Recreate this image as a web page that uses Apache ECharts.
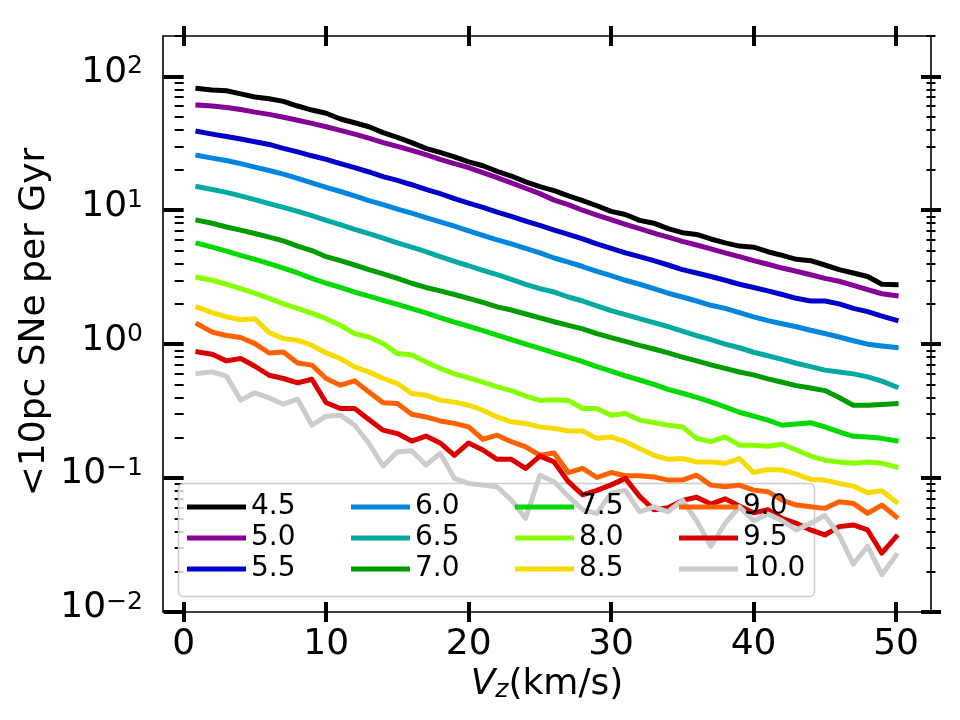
<!DOCTYPE html>
<html>
<head>
<meta charset="utf-8">
<script src="https://cdn.jsdelivr.net/npm/echarts@6.0.0/dist/echarts.min.js"></script>
<style>
    html, body { margin: 0; padding: 0; background: #fff; }
    #chart { width: 960px; height: 720px; }
</style>
</head>
<body>
<div id="chart"></div>
<script>
    // Vz (km/s)
    const vz = [1, 2, 3, 4, 5, 6, 7, 8, 9, 10, 11, 12, 13, 14, 15, 16, 17, 18, 19, 20,
        21, 22, 23, 24, 25, 26, 27, 28, 29, 30, 31, 32, 33, 34, 35, 36, 37, 38, 39, 40,
        41, 42, 43, 44, 45, 46, 47, 48, 49, 50];
    const names = ['4.5', '5.0', '5.5', '6.0', '6.5', '7.0', '7.5', '8.0', '8.5', '9.0', '9.5', '10.0'];
    // nipy_spectral
    const colors = ['#000000', '#850096', '#0000ca', '#0086dd', '#00aaa1', '#009c00',
        '#00da00', '#88ff00', '#f7db00', '#ff6100', '#da0000', '#cccccc'];

    // <10pc SNe per Gyr
    const s45 = [81, 79, 78, 74, 70, 68, 65, 60, 56, 53, 48, 45, 42, 38, 35, 32, 29, 27, 25, 23,
        21.5, 19.5, 18, 16.3, 15, 14, 12.8, 11.8, 10.8, 9.8, 9.3, 8.4, 8.0, 7.3, 6.8, 6.6, 6.1, 5.7, 5.4, 5.3,
        4.9, 4.6, 4.3, 4.2, 3.9, 3.6, 3.4, 3.2, 2.8, 2.78];
    const s50 = [61, 60, 58.5, 56.5, 54, 52, 49.5, 47, 44.5, 42, 39.5, 37, 34.5, 32, 30, 28, 26, 24, 22.3, 20.8,
        19.1, 17.5, 16.0, 14.6, 13.3, 11.9, 11.0, 10.0, 9.2, 8.5, 7.85, 7.3, 6.75, 6.3, 5.85, 5.5, 5.15, 4.8, 4.5, 4.2,
        3.95, 3.7, 3.5, 3.3, 3.1, 2.95, 2.75, 2.55, 2.38, 2.3];
    const s55 = [38.7, 37, 35.5, 34, 32.5, 31, 29, 27.3, 25.5, 24, 22.3, 20.8, 19.3, 17.8, 16.7, 15.5, 14.3, 13.3, 12.2, 11.3,
        10.5, 9.7, 9.0, 8.3, 7.7, 7.1, 6.6, 6.1, 5.6, 5.2, 4.8, 4.5, 4.2, 3.9, 3.6, 3.4, 3.2, 3.0, 2.8, 2.65,
        2.5, 2.35, 2.2, 2.1, 2.1, 2.0, 1.85, 1.75, 1.62, 1.51];
    const s60 = [25.6, 24.5, 23.5, 22.3, 21, 19.8, 18.6, 17.3, 16, 14.8, 13.8, 12.8, 11.8, 11.0, 10.2, 9.5, 8.8, 8.2, 7.6, 7.0,
        6.5, 6.0, 5.6, 5.2, 4.8, 4.4, 4.1, 3.8, 3.5, 3.25, 3.0, 2.8, 2.6, 2.4, 2.25, 2.1, 1.95, 1.85, 1.72, 1.6,
        1.5, 1.42, 1.35, 1.27, 1.2, 1.13, 1.06, 1.0, 0.97, 0.946];
    const s65 = [15.0, 14.3, 13.6, 12.8, 12.0, 11.2, 10.5, 9.8, 9.1, 8.4, 7.8, 7.2, 6.7, 6.2, 5.7, 5.3, 4.9, 4.5, 4.15, 3.85,
        3.55, 3.3, 3.05, 2.8, 2.6, 2.45, 2.25, 2.1, 1.93, 1.78, 1.66, 1.55, 1.45, 1.35, 1.25, 1.16, 1.08, 1.0, 0.94, 0.87,
        0.82, 0.77, 0.72, 0.68, 0.64, 0.62, 0.6, 0.57, 0.53, 0.48];
    const s70 = [8.4, 8.0, 7.5, 7.1, 6.7, 6.3, 5.9, 5.4, 5.0, 4.5, 4.2, 3.9, 3.6, 3.35, 3.1, 2.85, 2.65, 2.5, 2.35, 2.2,
        2.05, 1.9, 1.8, 1.68, 1.57, 1.47, 1.38, 1.3, 1.2, 1.12, 1.05, 0.98, 0.92, 0.86, 0.8, 0.75, 0.7, 0.66, 0.62, 0.59,
        0.55, 0.52, 0.49, 0.47, 0.45, 0.40, 0.35, 0.35, 0.355, 0.36];
    const s75 = [5.65, 5.3, 4.95, 4.6, 4.3, 4.0, 3.7, 3.4, 3.1, 2.85, 2.65, 2.45, 2.28, 2.12, 1.98, 1.84, 1.71, 1.58, 1.46, 1.36,
        1.26, 1.17, 1.08, 1.0, 0.93, 0.86, 0.8, 0.74, 0.68, 0.63, 0.58, 0.54, 0.5, 0.46, 0.43, 0.4, 0.37, 0.34, 0.31, 0.29,
        0.271, 0.248, 0.253, 0.259, 0.241, 0.221, 0.205, 0.203, 0.198, 0.190];
    const s80 = [3.15, 3.0, 2.8, 2.6, 2.4, 2.2, 2.0, 1.85, 1.7, 1.55, 1.38, 1.20, 1.13, 1.01, 0.85, 0.83, 0.736, 0.66, 0.6, 0.56,
        0.52, 0.48, 0.45, 0.41, 0.38, 0.385, 0.38, 0.331, 0.331, 0.295, 0.304, 0.271, 0.26, 0.248, 0.241, 0.198, 0.187, 0.203, 0.176, 0.176,
        0.173, 0.179, 0.162, 0.146, 0.136, 0.132, 0.129, 0.132, 0.129, 0.121];
    const s85 = [1.88, 1.72, 1.6, 1.52, 1.55, 1.22, 1.10, 1.07, 0.98, 0.86, 0.78, 0.676, 0.621, 0.554, 0.508, 0.428, 0.416, 0.382, 0.369, 0.350,
        0.321, 0.286, 0.263, 0.256, 0.241, 0.235, 0.225, 0.225, 0.198, 0.203, 0.187, 0.166, 0.148, 0.138, 0.140, 0.132, 0.132, 0.129, 0.140, 0.110,
        0.116, 0.115, 0.107, 0.0978, 0.0966, 0.0912, 0.0871, 0.0776, 0.0804, 0.0665];
    const s90 = [1.41, 1.23, 1.16, 1.12, 1.01, 0.859, 0.875, 0.724, 0.697, 0.554, 0.494, 0.532, 0.44, 0.365, 0.361, 0.30, 0.286, 0.267, 0.256, 0.241,
        0.195, 0.209, 0.187, 0.171, 0.148, 0.154, 0.110, 0.118, 0.101, 0.110, 0.104, 0.104, 0.102, 0.0966, 0.0966, 0.105, 0.0886, 0.0861, 0.0886, 0.0813,
        0.0791, 0.0685, 0.0629, 0.061, 0.0594, 0.0665, 0.0647, 0.0545, 0.0629, 0.0514];
    const s95 = [0.875, 0.841, 0.75, 0.781, 0.684, 0.586, 0.554, 0.514, 0.547, 0.365, 0.331, 0.331, 0.274, 0.228, 0.215, 0.189, 0.206, 0.183, 0.148, 0.183,
        0.162, 0.138, 0.138, 0.118, 0.146, 0.132, 0.094, 0.075, 0.081, 0.089, 0.0995, 0.073, 0.058, 0.06, 0.068, 0.072, 0.064, 0.07, 0.062, 0.055,
        0.058, 0.05, 0.046, 0.041, 0.0376, 0.0434, 0.0447, 0.041, 0.0275, 0.0365];
    const s100 = [0.604, 0.621, 0.577, 0.382, 0.433, 0.397, 0.356, 0.388, 0.248, 0.290, 0.295, 0.248, 0.182, 0.123, 0.157, 0.16, 0.125, 0.153, 0.0995, 0.0912,
        0.0886, 0.0861, 0.0685, 0.050, 0.105, 0.094, 0.073, 0.058, 0.0545, 0.077, 0.081, 0.056, 0.061, 0.056, 0.0685, 0.048, 0.031, 0.046, 0.061, 0.048,
        0.054, 0.048, 0.041, 0.046, 0.0526, 0.0376, 0.0228, 0.031, 0.019, 0.0265];
    const allSeries = [s45, s50, s55, s60, s65, s70, s75, s80, s85, s90, s95, s100];

    // ticks
    const xTicks = [0, 10, 20, 30, 40, 50];
    const yMajor = [0.01, 0.1, 1, 10, 100];
    const yMinor = [0.02, 0.03, 0.04, 0.05, 0.06, 0.07, 0.08, 0.09,
        0.2, 0.3, 0.4, 0.5, 0.6, 0.7, 0.8, 0.9,
        2, 3, 4, 5, 6, 7, 8, 9,
        20, 30, 40, 50, 60, 70, 80, 90, 200];
    // legend columns (filled column by column)
    const legendCols = [['4.5', '5.0', '5.5'], ['6.0', '6.5', '7.0'], ['7.5', '8.0', '8.5'], ['9.0', '9.5', '10.0']];

    const FONT = '"DejaVu Sans", sans-serif';

    function xAxisOf(pos, showLabel) {
        return {
            type: 'value', position: pos, offset: -10,
            min: -1.45, max: 52.45,
            axisLine: { show: false },
            splitLine: { show: false },
            axisTick: { customValues: xTicks, length: 20, lineStyle: { color: '#000', width: 4 } },
            axisLabel: {
                show: showLabel, customValues: xTicks, margin: 25,
                color: '#000', fontSize: 36, fontFamily: FONT
            }
        };
    }

    function yAxisOf(pos, major, showLabel) {
        return {
            type: 'log', logBase: 10, position: pos,
            offset: major ? -10 : -4.5,
            min: 0.01, max: 200,
            axisLine: { show: false },
            splitLine: { show: false },
            minorTick: { show: false },
            axisTick: {
                customValues: major ? yMajor : yMinor,
                length: major ? 20 : 9,
                lineStyle: { color: '#000', width: major ? 4 : 2 }
            },
            axisLabel: {
                show: showLabel, customValues: yMajor, margin: 30,
                padding: [0, 0, 8, 0],
                formatter: function (v) {
                    let e = Math.round(Math.log10(v));
                    return '{b|10}{s|' + (e < 0 ? '\u2212' + (-e) : e) + '}';
                },
                rich: {
                    b: { fontSize: 36, lineHeight: 36, fontFamily: FONT, color: '#000', verticalAlign: 'bottom' },
                    s: { fontSize: 25, lineHeight: 25, fontFamily: FONT, color: '#000', verticalAlign: 'top', padding: [0, 0, 19, 0] }
                }
            }
        };
    }

    let myChart = echarts.init(document.getElementById('chart'));
    myChart.setOption({
        animation: false,
        backgroundColor: '#fff',
        grid: {
            left: 163, top: 36, width: 768, height: 576,
            show: true, borderColor: '#000', borderWidth: 1.6, backgroundColor: 'transparent'
        },
        xAxis: [xAxisOf('bottom', true), xAxisOf('top', false)],
        yAxis: [yAxisOf('left', true, true), yAxisOf('left', false, false),
            yAxisOf('right', true, false), yAxisOf('right', false, false)],
        legend: legendCols.map(function (col, i) {
            return {
                data: col,
                left: [187, 351, 515, 679][i], top: 493,
                orient: 'vertical', padding: 0,
                icon: 'rect', itemWidth: 59, itemHeight: 5, itemGap: 3,
                selectedMode: false,
                textStyle: { fontSize: 28, lineHeight: 28, fontFamily: FONT, color: '#000' },
                z: 5
            };
        }),
        graphic: [
            {
                type: 'rect', z: 3,
                shape: { x: 178.5, y: 483.5, width: 636, height: 113, r: 5 },
                style: { fill: 'rgba(255,255,255,0.8)', stroke: '#cccccc', lineWidth: 1.5 }
            },
            {
                type: 'text', x: 35, y: 322, rotation: Math.PI / 2,
                style: {
                    text: '<10pc SNe per Gyr', fontSize: 36, fontFamily: FONT, fill: '#000',
                    align: 'center', verticalAlign: 'middle'
                }
            },
            {
                type: 'text', x: 547, y: 667,
                style: {
                    text: '{v|V}{z|z}{t|(km/s)}', fill: '#000', align: 'center', verticalAlign: 'top',
                    rich: {
                        v: { fontSize: 36, lineHeight: 36, fontStyle: 'italic', fontFamily: FONT, verticalAlign: 'top' },
                        z: { fontSize: 25, lineHeight: 25, fontStyle: 'italic', fontFamily: FONT, verticalAlign: 'bottom', padding: [17, 0, 0, 0] },
                        t: { fontSize: 36, lineHeight: 36, fontFamily: FONT, verticalAlign: 'top' }
                    }
                }
            }
        ],
        series: allSeries.map(function (vals, i) {
            return {
                name: names[i], type: 'line',
                xAxisIndex: 0, yAxisIndex: 0,
                data: vz.map(function (x, j) { return [x, vals[j]]; }),
                symbol: 'none', silent: true,
                color: colors[i],
                lineStyle: { width: 5, color: colors[i], cap: 'square', join: 'round' }
            };
        })
    });
</script>
</body>
</html>
